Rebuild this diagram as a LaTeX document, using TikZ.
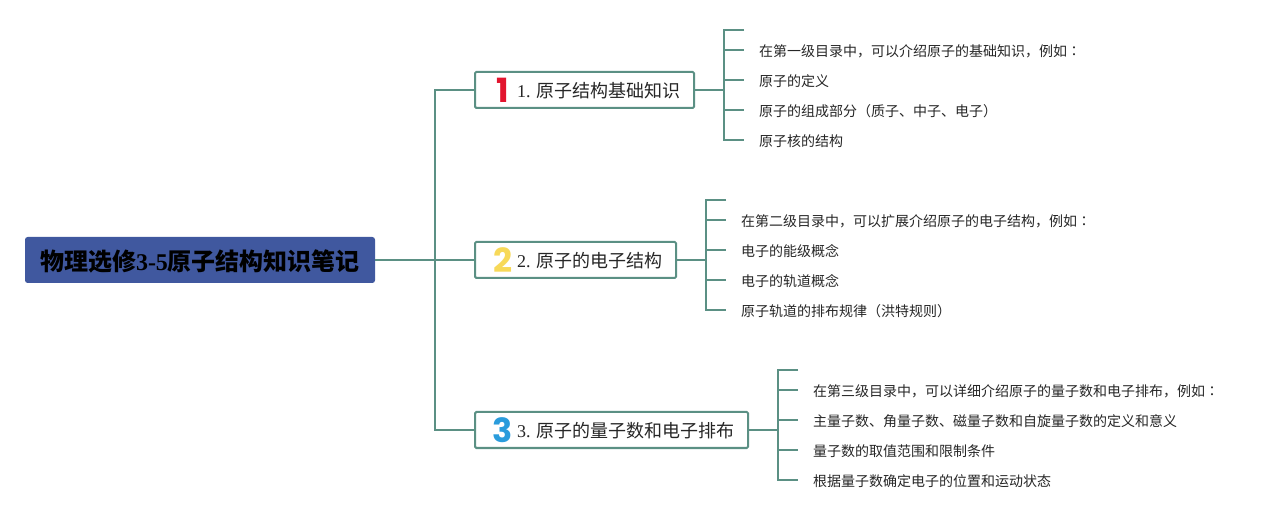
\documentclass[tikz,border=0pt]{standalone}
\usepackage{fontspec}
\setmainfont{Liberation Serif}
\newfontfamily\cjk{Noto Sans CJK SC}
\newfontfamily\cjkcolon{Noto Sans CJK TC}
\newfontfamily\badgefont{Poppins}
\definecolor{linkgreen}{HTML}{5B9084}
\definecolor{rootblue}{HTML}{40589F}
\definecolor{badgered}{HTML}{E2152E}
\definecolor{badgeyellow}{HTML}{F7D959}
\definecolor{badgeblue}{HTML}{2A9CDC}
\tikzset{
    link/.style={draw=linkgreen,line width=1.5pt},
    root/.style={fill=rootblue,rounded corners=2pt,outer sep=0pt,inner sep=0pt,minimum width=262.5pt,minimum height=34.5pt,anchor=west,text height=17.5pt,text depth=2.4pt,font=\fontsize{18}{20}\selectfont\bfseries},
    topic/.style={draw=linkgreen,line width=1.5pt,fill=white,rounded corners=1pt,outer sep=0pt,inner sep=0pt,minimum height=27pt,text width=#1,align=left,anchor=west,text height=13.5pt,text depth=1.7pt,text=black!85,font=\fontsize{13.5}{16}\selectfont},
    leaf/.style={anchor=west,outer sep=0pt,inner ysep=0pt,inner xsep=11.25pt,text height=10.5pt,text depth=1pt,text=black!85,font=\fontsize{10.5}{12}\selectfont\cjk},
    badge/.style={inner sep=0pt,font=\fontsize{25}{25}\selectfont\bfseries\badgefont}
}
\begin{document}
\begin{tikzpicture}[x=0.75pt,y=-0.75pt]
    \useasboundingbox (0,0) rectangle (1279,520);
    % trunk
    \coordinate (trunk) at (435,260);
    \node[root] (rootnode) at (25,260) {{\cjk 物理选修}3-5{\cjk 原子结构知识笔记}};
    \node[topic=164.25pt] (b1) at (475,90) {\hspace*{31.5pt}1.\ {\cjk 原子结构基础知识}};
    \node[topic=150.75pt] (b2) at (475,260) {\hspace*{31.5pt}2.\ {\cjk 原子的电子结构}};
    \node[topic=204.75pt] (b3) at (475,430) {\hspace*{31.5pt}3.\ {\cjk 原子的量子数和电子排布}};
    \node[badge,text=badgered] (n1) at (503,90) {1};
    \node[badge,text=badgeyellow] (n2) at (503,260) {2};
    \node[badge,text=badgeblue] (n3) at (503,430) {3};
    \draw[link] (rootnode.east) -- (b2.west);
    \draw[link] (b1.west) -| (trunk) |- (b3.west);
    % first branch
    \coordinate (s1) at (724,90);
    \coordinate (t1) at (744,30);
    \path
        (744,50) node[leaf] (l11) {在第一级目录中，可以介绍原子的基础知识，例如{\cjkcolon ：}}
        (744,80) node[leaf] (l12) {原子的定义}
        (744,110) node[leaf] (l13) {原子的组成部分（质子、中子、电子）}
        (744,140) node[leaf] (l14) {原子核的结构};
    \draw[link] (b1.east) -- (s1);
    \draw[link] (t1) -| (s1) |- (l14.west);
    \draw[link] (s1 |- l11.west) -- (l11.west);
    \draw[link] (s1 |- l12.west) -- (l12.west);
    \draw[link] (s1 |- l13.west) -- (l13.west);
    % second branch
    \coordinate (s2) at (706,260);
    \coordinate (t2) at (726,200);
    \path
        (726,220) node[leaf] (l21) {在第二级目录中，可以扩展介绍原子的电子结构，例如{\cjkcolon ：}}
        (726,250) node[leaf] (l22) {电子的能级概念}
        (726,280) node[leaf] (l23) {电子的轨道概念}
        (726,310) node[leaf] (l24) {原子轨道的排布规律（洪特规则）};
    \draw[link] (b2.east) -- (s2);
    \draw[link] (t2) -| (s2) |- (l24.west);
    \draw[link] (s2 |- l21.west) -- (l21.west);
    \draw[link] (s2 |- l22.west) -- (l22.west);
    \draw[link] (s2 |- l23.west) -- (l23.west);
    % third branch
    \coordinate (s3) at (778,430);
    \coordinate (t3) at (798,370);
    \path
        (798,390) node[leaf] (l31) {在第三级目录中，可以详细介绍原子的量子数和电子排布，例如{\cjkcolon ：}}
        (798,420) node[leaf] (l32) {主量子数、角量子数、磁量子数和自旋量子数的定义和意义}
        (798,450) node[leaf] (l33) {量子数的取值范围和限制条件}
        (798,480) node[leaf] (l34) {根据量子数确定电子的位置和运动状态};
    \draw[link] (b3.east) -- (s3);
    \draw[link] (t3) -| (s3) |- (l34.west);
    \draw[link] (s3 |- l31.west) -- (l31.west);
    \draw[link] (s3 |- l32.west) -- (l32.west);
    \draw[link] (s3 |- l33.west) -- (l33.west);
\end{tikzpicture}
\end{document}
